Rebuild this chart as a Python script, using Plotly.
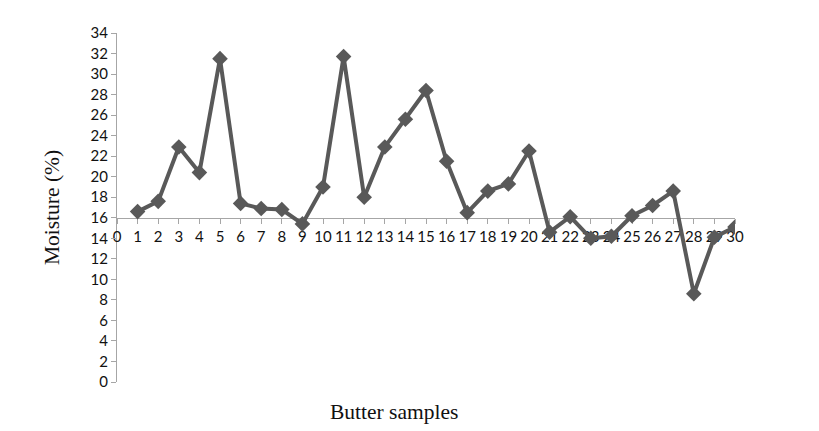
import plotly.graph_objects as go

# moisture per butter sample
samples = list(range(1, 31))
moisture = [16.6, 17.6, 22.9, 20.4, 31.5, 17.4, 16.9, 16.8, 15.4, 19.0,
            31.7, 18.0, 22.9, 25.6, 28.4, 21.5, 16.5, 18.6, 19.3, 22.5,
            14.6, 16.1, 14.0, 14.2, 16.2, 17.2, 18.6, 8.6, 14.1, 15.1]

y_min, y_max = 0, 34
x_cross = 16  # where the horizontal axis crosses the vertical one

line_col = "#595959"
axis_col = "#a6a6a6"
tick_font = dict(family="Lato, Open Sans, sans-serif", size=15, color="#111")
serif = dict(family="Liberation Serif, Times New Roman, serif", size=21.5, color="#111")

fig = go.Figure()
fig.add_trace(go.Scatter(
    x=samples, y=moisture,
    mode="lines+markers",
    line=dict(color=line_col, width=4),
    marker=dict(symbol="diamond", size=12, color=line_col),
    showlegend=False,
))

# page body adds ~8px, so margins are shifted to compensate
fig.update_layout(
    width=819, height=431,
    margin=dict(l=109, r=92, t=25, b=57),
    plot_bgcolor="white", paper_bgcolor="white",
    xaxis=dict(
        range=[0, 30], dtick=1, tick0=0,
        anchor="free", position=(x_cross - y_min) / (y_max - y_min),
        showline=True, linecolor=axis_col, linewidth=1.3,
        ticks="outside", ticklen=5, tickcolor=axis_col,
        showgrid=False, zeroline=False,
        tickfont=tick_font, layer="below traces",
    ),
    yaxis=dict(
        range=[y_min, y_max], dtick=2,
        showline=True, linecolor=axis_col, linewidth=1.3,
        ticks="outside", ticklen=5, tickcolor=axis_col,
        showgrid=False, zeroline=False,
        tickfont=tick_font, layer="below traces",
        title=dict(text="Moisture (%)", font=serif, standoff=24),
    ),
    annotations=[dict(
        text="Butter samples", xref="paper", yref="paper",
        x=0.448, y=-0.086, yanchor="middle", showarrow=False, font=serif,
    )],
)

fig.write_html("out.html")
